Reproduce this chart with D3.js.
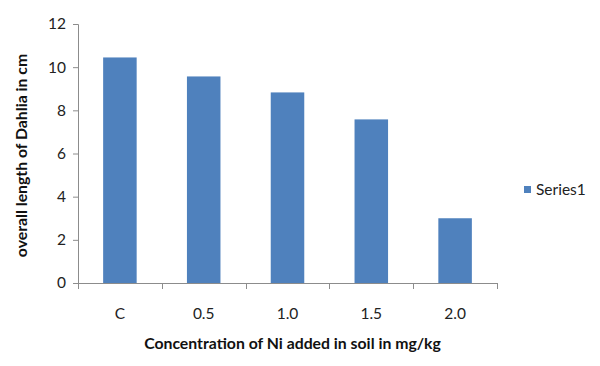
<!DOCTYPE html>
<html>
<head>
<meta charset="utf-8">
<script src="https://cdn.jsdelivr.net/npm/d3@7"></script>
<style>
  body { margin: 0; background: #fff; }
  text { font-family: Lato, "Open Sans", sans-serif; }
</style>
</head>
<body>
<div id="chart"></div>
<script>
// data
var categories = ["C", "0.5", "1.0", "1.5", "2.0"]
var series1 = [10.45, 9.57, 8.83, 7.58, 3.0]
var yTicks = [0, 2, 4, 6, 8, 10, 12]
var seriesName = "Series1"

var width = 600, height = 366
var margin = { top: 24, right: 103, bottom: 83, left: 78 }
var w = width - margin.left - margin.right
var h = height - margin.top - margin.bottom
var color = "#4f81bd"
var axisColor = "#8c8c8c"

var svg = d3.select("#chart")
  .append("svg")
  .attr("width", width)
  .attr("height", height)

var g = svg.append("g")
  .attr("transform", "translate(" + margin.left + "," + margin.top + ")")

// scales
var x = d3.scaleBand()
  .domain(categories)
  .range([0, w])
  .paddingInner(0.6)
  .paddingOuter(0.3)

var y = d3.scaleLinear()
  .domain([0, 12])
  .range([h, 0])

// bars
g.selectAll(".bar")
  .data(series1)
  .enter()
  .append("rect")
  .attr("class", "bar")
  .attr("x", function (d, i) { return x(categories[i]); })
  .attr("y", function (d) { return y(d); })
  .attr("width", x.bandwidth())
  .attr("height", function (d) { return h - y(d); })
  .style("fill", color)

// y axis
var yAxis = g.append("g")
  .call(d3.axisLeft(y).tickValues(yTicks).tickSize(5).tickPadding(7))
yAxis.select(".domain").attr("stroke", axisColor).attr("d", "M-5,0.5H0.5V" + (h + 0.5))
yAxis.selectAll(".tick line").attr("stroke", axisColor)
yAxis.selectAll(".tick text")
  .style("font-size", "15.5px")
  .attr("fill", "#222")

// x axis: ticks sit between categories, like Excel
var xAxis = g.append("g")
  .attr("transform", "translate(0," + h + ")")
xAxis.append("line")
  .attr("x1", 0).attr("x2", w)
  .attr("y1", 0.5).attr("y2", 0.5)
  .attr("stroke", axisColor)
var step = x.step()
var edges = d3.range(categories.length + 1).map(function (i) {
  return x(categories[0]) - x.paddingInner() * step / 2 + i * step
})
xAxis.selectAll(".xtick")
  .data(edges)
  .enter()
  .append("line")
  .attr("x1", function (d) { return Math.round(d) + 0.5; })
  .attr("x2", function (d) { return Math.round(d) + 0.5; })
  .attr("y1", 0).attr("y2", 6)
  .attr("stroke", axisColor)
xAxis.selectAll(".xlabel")
  .data(categories)
  .enter()
  .append("text")
  .attr("x", function (d) { return x(d) + x.bandwidth() / 2; })
  .attr("y", 36)
  .attr("text-anchor", "middle")
  .style("font-size", "15.5px")
  .attr("fill", "#222")
  .text(function (d) { return d; })

// axis titles
svg.append("text")
  .attr("x", margin.left + w / 2 + 5)
  .attr("y", 349)
  .attr("text-anchor", "middle")
  .style("font-size", "15.8px")
  .style("font-weight", "bold")
  .attr("fill", "#111")
  .text("Concentration of Ni added in soil in mg/kg")

svg.append("text")
  .attr("transform", "translate(27," + (margin.top + h / 2 + 2) + ") rotate(-90)")
  .attr("text-anchor", "middle")
  .style("font-size", "15.8px")
  .style("font-weight", "bold")
  .attr("fill", "#111")
  .text("overall length of Dahlia in cm")

// legend
var legend = svg.append("g")
  .attr("transform", "translate(524,186)")
legend.append("rect")
  .attr("width", 7).attr("height", 7)
  .style("fill", color)
legend.append("text")
  .attr("x", 12).attr("y", 9)
  .style("font-size", "15.5px")
  .attr("fill", "#222")
  .text(seriesName)
</script>
</body>
</html>
